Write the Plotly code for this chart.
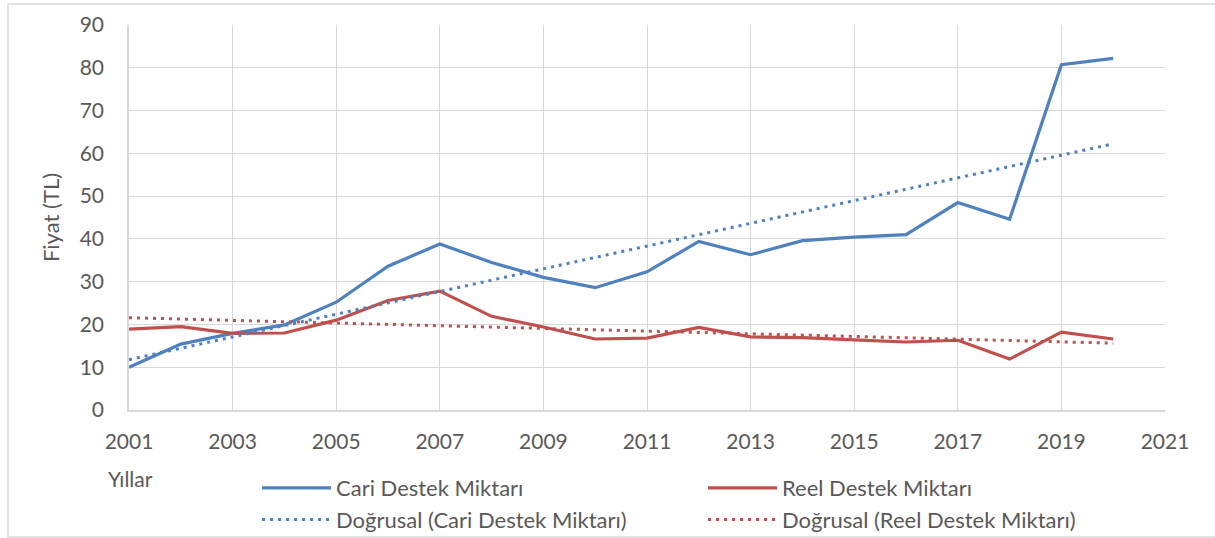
import numpy as np
import plotly.graph_objects as go

years = list(range(2001, 2021))
cari = [10.0, 15.4, 17.9, 19.9, 25.2, 33.6, 38.8, 34.5, 31.0, 28.6,
        32.3, 39.4, 36.3, 39.6, 40.4, 41.0, 48.5, 44.6, 80.7, 82.2]
reel = [18.9, 19.5, 17.9, 18.0, 21.0, 25.6, 27.8, 21.9, 19.4, 16.6,
        16.8, 19.3, 17.1, 16.9, 16.4, 15.9, 16.3, 11.9, 18.2, 16.6]
x_ticks = list(range(2001, 2022, 2))
y_ticks = list(range(0, 91, 10))

names = ["Cari Destek Miktarı", "Reel Destek Miktarı",
         "Doğrusal (Cari Destek Miktarı)", "Doğrusal (Reel Destek Miktarı)"]
BLUE = "#4F81BD"
RED = "#C0504D"
FONT = "Lato, Calibri, sans-serif"
TXT = "#595959"

x = np.array(years, dtype=float)
def trend(vals):
    a, b = np.polyfit(x, np.array(vals), 1)
    return a * x + b

fig = go.Figure()
fig.add_trace(go.Scatter(x=years, y=cari, mode="lines", name=names[0],
                         line=dict(color=BLUE, width=3.2)))
fig.add_trace(go.Scatter(x=years, y=reel, mode="lines", name=names[1],
                         line=dict(color=RED, width=3.2)))
fig.add_trace(go.Scatter(x=years, y=trend(cari), mode="lines", name=names[2],
                         line=dict(color=BLUE, width=3, dash="3px,5px")))
fig.add_trace(go.Scatter(x=years, y=trend(reel), mode="lines", name=names[3],
                         line=dict(color=RED, width=3, dash="3px,5px")))

W, H = 1215, 538
L, R, T, B = 129, 50, 25, 128
pw, ph = W - L - R, H - T - B

def px2paper_x(px):
    return (px - L) / pw

def px2paper_y(py):
    return (H - B - py) / ph

fig.update_layout(
    width=W, height=H,
    margin=dict(l=L, r=R, t=T, b=B, autoexpand=False),
    paper_bgcolor="white", plot_bgcolor="white",
    font=dict(family=FONT, size=21, color=TXT),
    showlegend=True,
    legend=dict(orientation="h", x=px2paper_x(257), y=px2paper_y(467),
                xanchor="left", yanchor="top",
                entrywidth=362, entrywidthmode="pixels",
                itemwidth=69, font=dict(size=22, color=TXT),
                bgcolor="rgba(0,0,0,0)", tracegroupgap=0),
    xaxis=dict(range=[2001, 2021], tickvals=x_ticks, ticktext=[str(v) for v in x_ticks],
               showgrid=True, gridcolor="#D9D9D9", gridwidth=1,
               showline=True, linecolor="#D9D9D9", linewidth=1.5,
               zeroline=False, ticks="", ticklabelstandoff=12,
               tickfont=dict(size=21, color=TXT)),
    yaxis=dict(range=[0, 90], tickvals=y_ticks,
               showgrid=True, gridcolor="#D9D9D9", gridwidth=1,
               showline=True, linecolor="#D9D9D9", linewidth=1.5,
               zeroline=False, ticks="", ticklabelstandoff=19,
               tickfont=dict(size=21, color=TXT),
               title=dict(text="Fiyat (TL)", font=dict(size=22, color=TXT), standoff=14)),
    annotations=[dict(text="Yıllar", xref="paper", yref="paper",
                      x=px2paper_x(106), y=px2paper_y(478),
                      xanchor="left", yanchor="middle", showarrow=False,
                      font=dict(size=21, color=TXT))],
    shapes=[dict(type="rect", xref="paper", yref="paper",
                 x0=px2paper_x(8), x1=px2paper_x(1225),
                 y0=px2paper_y(537), y1=px2paper_y(4),
                 line=dict(color="#D9D9D9", width=1.5), fillcolor="rgba(0,0,0,0)",
                 layer="below")],
)

fig.write_html("out.html", config={"displayModeBar": False},
               post_script="document.body.style.margin='0';document.body.style.overflow='hidden';")
